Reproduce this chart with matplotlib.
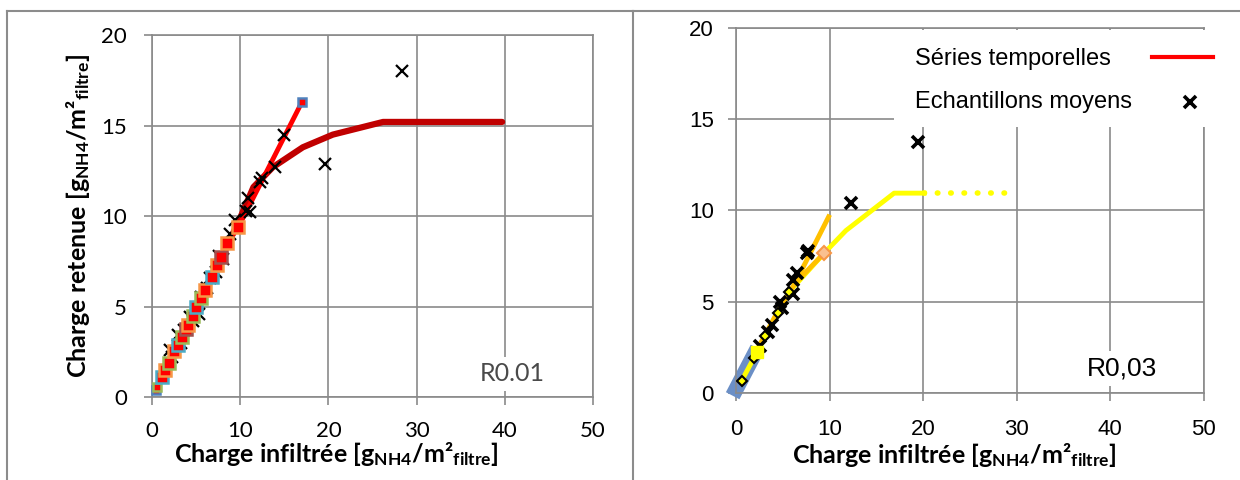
import matplotlib
matplotlib.use("Agg")
import matplotlib.pyplot as plt
from matplotlib.lines import Line2D
from matplotlib.patches import Rectangle

plt.rcParams['font.family'] = ['Liberation Sans', 'DejaVu Sans']
plt.rcParams['mathtext.fontset'] = 'custom'
plt.rcParams['mathtext.bf'] = 'Lato:bold'
plt.rcParams['mathtext.rm'] = 'Lato:bold'
plt.rcParams['mathtext.it'] = 'Lato:bold'

# ---- left panel (R0.01) ----
sq_x = [0.4, 0.6, 1.1, 1.45, 1.95, 2.5, 3.0, 3.4, 3.8, 4.1, 4.6, 5.0, 5.5, 6.0, 6.75, 7.4, 7.8, 8.5, 9.8, 17.0]
sq_y = [0.4, 0.57, 1.1, 1.5, 1.9, 2.55, 2.9, 3.3, 3.75, 4.0, 4.5, 4.95, 5.45, 5.9, 6.65, 7.3, 7.75, 8.5, 9.4, 16.3]

model_x = [0.4, 2, 4, 6, 8, 10, 11.5, 13.7, 17.1, 20.5, 26.2, 39.7]
model_y = [0.4, 2, 4, 5.9, 7.8, 9.9, 11.6, 12.7, 13.8, 14.5, 15.2, 15.2]

ech_x = [2.0, 2.3, 3.0, 3.3, 3.6, 4.3, 4.7, 5.3, 5.6, 6.2, 6.6, 7.2, 7.6, 8.0,
         8.8, 9.4, 10.7, 11.1, 10.9, 12.2, 12.5, 13.9, 15.0, 19.6, 28.4]
ech_y = [2.6, 2.2, 3.4, 3.0, 3.7, 4.4, 4.2, 4.6, 5.5, 6.0, 6.6, 6.9, 7.8, 7.6,
         9.0, 9.8, 10.3, 10.2, 11.0, 11.9, 12.1, 12.7, 14.5, 12.9, 18.0]

# ---- right panel (R0,03) ----
band_x = [-0.35, 2.3]
band_y = [-0.15, 2.45]

yel_x = [0.6, 1.9, 2.3, 3.15, 4.5, 5.7, 9.4, 11.75, 16.9, 20.1]
yel_y = [0.66, 1.9, 2.26, 3.1, 4.37, 5.55, 7.65, 8.9, 10.95, 10.95]
yel_dot_x = [20.1, 29.0]
yel_dot_y = [10.95, 10.95]

dia_x = [0.6, 1.9, 3.15, 4.5, 5.7]
dia_y = [0.66, 1.9, 3.1, 4.37, 5.55]
big_x, big_y = [2.3], [2.26]
last_x, last_y = [9.4], [7.65]

ora_x = [2.5, 4.5, 6.3, 9.9]
ora_y = [2.6, 4.5, 6.0, 9.65]
ora2_x = [6.3, 9.4]
ora2_y = [6.0, 7.65]

ech2_x = [2.6, 3.4, 3.85, 4.7, 4.9, 6.05, 6.1, 6.55, 7.6, 7.7, 12.3, 19.5]
ech2_y = [2.6, 3.35, 3.7, 5.0, 4.65, 5.45, 6.2, 6.55, 7.65, 7.8, 10.4, 13.75]

ticks_x = [0, 10, 20, 30, 40, 50]
ticks_y = [0, 5, 10, 15, 20]

leg_labels = ['Séries temporelles', 'Echantillons moyens']
xlab = 'Charge infiltrée [$\\mathbf{g_{NH4}/m²_{filtre}}$]'
ylab = 'Charge retenue [$\\mathbf{g_{NH4}/m²_{filtre}}$]'

grid_c = '#8a8a8a'
edge_cycle = ['#4F81BD', '#9BBB59', '#4BACC6', '#F79646', '#9BBB59', '#F79646',
              '#4BACC6', '#9BBB59', '#A0524F', '#F79646', '#9BBB59', '#4BACC6',
              '#9BBB59', '#F79646', '#4BACC6', '#F79646', '#A0524F', '#F79646',
              '#F79646', '#4F81BD']

fig = plt.figure(figsize=(12.4, 4.8), dpi=100)
ax1 = fig.add_axes([0.1226, 0.1729, 0.3556, 0.754])
ax2 = fig.add_axes([0.5935, 0.1813, 0.3774, 0.7604])


def style(ax, fam, fs, pad_x, pad_y):
    ax.set_xlim(0, 50)
    ax.set_ylim(0, 20)
    ax.set_xticks(ticks_x)
    ax.set_yticks(ticks_y)
    ax.grid(True, color=grid_c, lw=1.2, zorder=0)
    ax.set_axisbelow(True)
    for s in ax.spines.values():
        s.set_color(grid_c)
        s.set_linewidth(1.2)
    ax.tick_params(axis='x', direction='out', length=6, width=1.2, color=grid_c, pad=pad_x)
    ax.tick_params(axis='y', direction='out', length=6, width=1.2, color=grid_c, pad=pad_y)
    for lab in ax.get_xticklabels() + ax.get_yticklabels():
        lab.set_fontfamily(fam)
        lab.set_fontsize(fs)


style(ax1, 'Lato', 16, 11, 12)
style(ax2, 'Liberation Sans', 16, 13, 10)

# left panel
ax1.plot(model_x, model_y, color='#C00000', lw=4.5, solid_capstyle='round', zorder=3)
ax1.plot(sq_x, sq_y, color='#FF0000', lw=3.5, zorder=4)
ax1.plot(ech_x, ech_y, ls='none', marker='x', color='black', ms=9, mew=1.6, zorder=5)
for i in range(len(sq_x)):
    ms = 6 if i in (0, 1, 19) else 8
    ax1.plot(sq_x[i], sq_y[i], ls='none', marker='s', ms=ms, mfc='#FF0000',
             mec=edge_cycle[i % len(edge_cycle)], mew=1.8, zorder=6, clip_on=False)
ax1.text(0.816, 0.064, 'R0.01', transform=ax1.transAxes, ha='center', va='center',
         fontsize=18, family=['Lato', 'DejaVu Sans'], color='#4a4a4a',
         bbox=dict(facecolor='white', edgecolor='none', pad=4), zorder=7)

# right panel
ax2.plot(band_x, band_y, color='#6B8FC6', lw=11, solid_capstyle='butt', zorder=2, clip_on=False)
ax2.plot(yel_x, yel_y, color='#FFFF00', lw=3.5, zorder=3)
ax2.plot(yel_dot_x, yel_dot_y, color='#FFFF00', lw=4, ls=(0, (0.1, 2.3)),
         dash_capstyle='round', zorder=3)
ax2.plot(ora_x, ora_y, color='#FFC000', lw=3.5, zorder=3)
ax2.plot(ora2_x, ora2_y, color='#FFC000', lw=3.5, zorder=3)
ax2.plot(ech2_x, ech2_y, ls='none', marker='x', color='black', ms=8, mew=2.6, zorder=5)
ax2.plot(dia_x, dia_y, ls='none', marker='D', ms=5.5, mfc='#FFFF00', mec='black', mew=1.5, zorder=6)
ax2.plot(big_x, big_y, ls='none', marker='s', ms=9, mfc='#FFFF00', mec='#FFFF00', zorder=6)
ax2.plot(last_x, last_y, ls='none', marker='D', ms=7, mfc='#FAC090', mec='#F79646', mew=1.5, zorder=6)
ax2.text(0.825, 0.068, 'R0,03', transform=ax2.transAxes, ha='center', va='center',
         fontsize=19, color='black',
         bbox=dict(facecolor='white', edgecolor='none', pad=4), zorder=7)

# legend (Excel style: text left, key right, white box without border)
ax2.add_patch(Rectangle((0.338, 0.729), 0.69, 0.266, transform=ax2.transAxes,
                        facecolor='white', edgecolor='none', zorder=8, clip_on=False))
ax2.text(0.3825, 0.915, leg_labels[0], transform=ax2.transAxes, ha='left', va='center',
         fontsize=17, zorder=9)
ax2.text(0.3825, 0.797, leg_labels[1], transform=ax2.transAxes, ha='left', va='center',
         fontsize=17, zorder=9)
ax2.add_line(Line2D([0.889, 1.019], [0.9205, 0.9205], transform=ax2.transAxes,
                    color='#FF0000', lw=3, zorder=9, clip_on=False))
ax2.add_line(Line2D([0.970], [0.797], transform=ax2.transAxes, ls='none', marker='x',
                    color='black', ms=8, mew=2.6, zorder=9, clip_on=False))

# axis labels
fig.text(0.271, 0.0375, xlab, ha='center', va='baseline', fontsize=18,
         family='Lato', fontweight='bold')
fig.text(0.7698, 0.0354, xlab, ha='center', va='baseline', fontsize=18,
         family='Lato', fontweight='bold')
fig.text(0.063, 0.55, ylab, ha='center', va='center', rotation=90, fontsize=18,
         family='Lato', fontweight='bold')

# panel frames
fc = '#8c8c8c'
for xs, ys in [([7, 7], [480, 11]), ([7, 633], [11, 11]),
               ([633, 633], [480, 11]), ([633, 1240], [11, 11])]:
    fig.add_artist(Line2D([v / 1240 for v in xs], [1 - v / 480 for v in ys],
                          color=fc, lw=1.5))

fig.savefig('out.png', dpi=100)
